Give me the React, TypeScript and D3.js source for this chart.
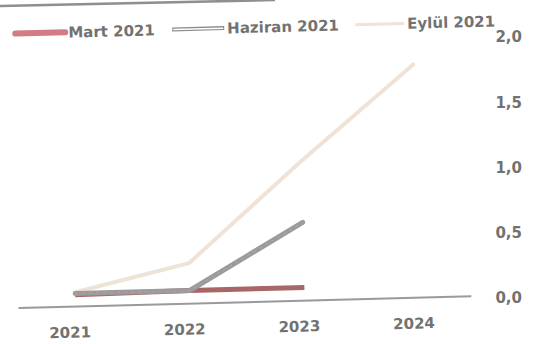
import React from "react";
import * as d3 from "d3";

const years = ["2021", "2022", "2023", "2024"];
const seriesNames = ["Mart 2021", "Haziran 2021", "Eylül 2021"];
const mart = [0.06, 0.07, 0.07];
const haziran = [0.07, 0.07, 0.57];
const eylul = [0.08, 0.28, 1.04, 1.76];
const yTicks = [0, 0.5, 1.0, 1.5, 2.0];

const W = 538;
const H = 344;
const FONT = "'DejaVu Sans', 'Open Sans', sans-serif";
const TEXT = "#727272";

export default function App() {
  const x = d3.scalePoint<string>().domain(years).range([72, 416]);
  const y = d3.scaleLinear().domain([0, 2]).range([297.5, 37]);
  const line = d3
    .line<number>()
    .x((_, i) => x(years[i]) as number)
    .y((d) => y(d));
  const fmt = (v: number) => d3.format(".1f")(v).replace(".", ",");

  const legendX = [19, 176, 359];
  const legendW = [50, 52, 49];

  return (
    <svg
      width={W}
      height={H}
      style={{ position: "absolute", left: 0, top: 0, display: "block", background: "#fff" }}
      fontFamily={FONT}
    >
      {/* scan edge */}
      <line x1={0} y1={6} x2={275} y2={0} stroke="#8f8f8f" strokeWidth={2.5} />

      {/* y axis labels */}
      {yTicks.map((t) => (
        <text
          key={t}
          x={522}
          y={y(t)}
          dy="0.36em"
          textAnchor="end"
          fontSize={15}
          fontWeight={700}
          fill={TEXT}
        >
          {fmt(t)}
        </text>
      ))}

      <g transform="rotate(-1.5, 269, 172)">
        {/* baseline */}
        <line x1={15} y1={301.5} x2={468} y2={301.5} stroke="#9a9a9a" strokeWidth={2} />

        {/* x labels */}
        {years.map((yr) => (
          <text
            key={yr}
            x={(x(yr) as number) - 6}
            y={327}
            dy="0.36em"
            textAnchor="middle"
            fontSize={15}
            fontWeight={700}
            fill={TEXT}
          >
            {yr}
          </text>
        ))}

        {/* Eylül */}
        <path d={line(eylul) || ""} fill="none" stroke="#efe3d8" strokeWidth={4} strokeLinecap="round" strokeLinejoin="round" />
        {/* Mart */}
        <path d={line(mart) || ""} fill="none" stroke="#a86666" strokeWidth={5} strokeLinecap="butt" strokeLinejoin="round" />
        {/* Haziran */}
        <path d={line(haziran) || ""} fill="none" stroke="#9b9b9b" strokeWidth={5} strokeLinecap="round" strokeLinejoin="round" />
        <path d={line(haziran) || ""} fill="none" stroke="#c49a9a" strokeWidth={1} strokeDasharray="3,4" />

        {/* legend */}
        <g>
          <line x1={legendX[0]} y1={27} x2={legendX[0] + legendW[0]} y2={27} stroke="#d27c84" strokeWidth={6} strokeLinecap="round" />
          <line x1={legendX[1]} y1={27} x2={legendX[1] + legendW[1]} y2={27} stroke="#8c8c8c" strokeWidth={4} />
          <line x1={legendX[1] + 1} y1={27} x2={legendX[1] + legendW[1] - 1} y2={27} stroke="#ffffff" strokeWidth={1.5} />
          <line x1={legendX[2]} y1={27} x2={legendX[2] + legendW[2]} y2={27} stroke="#efe3d8" strokeWidth={3} />
          {seriesNames.map((n, i) => (
            <text
              key={n}
              x={legendX[i] + legendW[i] + 3}
              y={27}
              dy="0.36em"
              fontSize={15}
              fontWeight={700}
              fill={TEXT}
            >
              {n}
            </text>
          ))}
        </g>
      </g>
    </svg>
  );
}
